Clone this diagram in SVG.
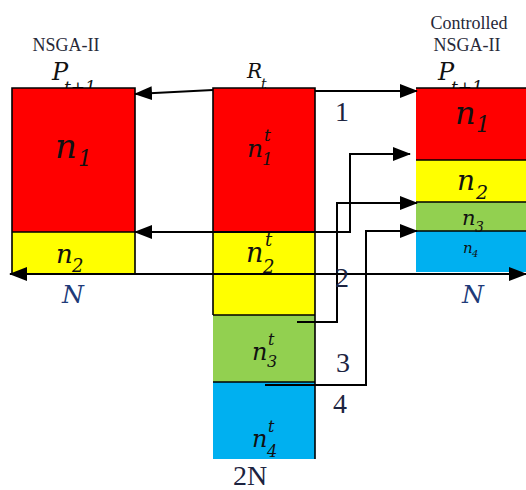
<svg xmlns="http://www.w3.org/2000/svg" width="526" height="490" viewBox="0 0 526 490">
  <defs>
    <marker id="head" viewBox="0 0 18 14" refX="17" refY="7" markerWidth="18" markerHeight="14" markerUnits="userSpaceOnUse" orient="auto-start-reverse">
      <path d="M0,0 L18,7 L0,14 z" fill="#000"/>
    </marker>
    <style>
      .cap { font-family: "Liberation Serif", "Times New Roman", serif; font-size: 18px; fill: #262838; text-anchor: middle; }
      .math { font-family: "DejaVu Serif", "Liberation Serif", serif; font-style: italic; fill: #111; }
      .num { font-family: "Liberation Serif", "Times New Roman", serif; font-size: 28px; fill: #1c2340; }
      .navy { fill: #203a78; }
      .edge { stroke: #000; stroke-width: 1.6; fill: none; }
      .wire { stroke: #000; stroke-width: 2; fill: none; }
      .red { fill: #ff0000; }
      .yellow { fill: #ffff00; }
      .green { fill: #92d050; }
      .blue { fill: #00b0f0; }
    </style>
  </defs>

  <!-- column headings (drawn first so the box tops overlap the subscripts) -->
  <g id="headings">
    <text class="cap" x="66" y="51">NSGA-II</text>
    <text class="cap" x="469" y="29">Controlled</text>
    <text class="cap" x="467" y="51">NSGA-II</text>
    <text class="math" x="52" y="80" font-size="24">P<tspan x="64" y="93" font-size="17">t+1</tspan></text>
    <text class="math" x="247" y="78" font-size="20">R<tspan x="261" y="89" font-size="14">t</tspan></text>
    <text class="math" x="438" y="80" font-size="24">P<tspan x="451" y="93" font-size="17">t+1</tspan></text>
  </g>

  <!-- next population, standard NSGA-II -->
  <g id="left-pop">
    <rect class="red" x="12" y="88" width="123" height="144"/>
    <rect class="yellow" x="12" y="232" width="123" height="42"/>
    <path class="edge" d="M12,274 V88 H135 V274 M12,232 H135"/>
    <text class="math" x="55" y="158" font-size="34">n<tspan x="78" y="166" font-size="22">1</tspan></text>
    <text class="math" x="56" y="263" font-size="26">n<tspan x="72" y="272" font-size="18">2</tspan></text>
  </g>

  <!-- combined population R_t -->
  <g id="mid-pop">
    <rect class="red" x="213" y="88" width="102" height="144"/>
    <rect class="yellow" x="213" y="232" width="102" height="83"/>
    <rect class="green" x="213" y="315" width="102" height="67"/>
    <rect class="blue" x="213" y="382" width="102" height="77"/>
    <path class="edge" d="M213,315 V88 H315 V459 M213,232 H315 M213,315 H315 M213,382 H315"/>
    <text class="math" x="247" y="157" font-size="25">n<tspan x="264" y="141" font-size="17">t</tspan><tspan x="262" y="165" font-size="17">1</tspan></text>
    <text class="math" x="246" y="262" font-size="27">n<tspan x="265" y="246" font-size="18">t</tspan><tspan x="263" y="273" font-size="18">2</tspan></text>
    <text class="math" x="252" y="360" font-size="24">n<tspan x="268" y="345" font-size="16">t</tspan><tspan x="267" y="367" font-size="16">3</tspan></text>
    <text class="math" x="252" y="447" font-size="24">n<tspan x="268" y="432" font-size="16">t</tspan><tspan x="267" y="457" font-size="16">4</tspan></text>
  </g>

  <!-- next population, controlled NSGA-II -->
  <g id="right-pop">
    <rect class="red" x="416" y="88" width="110" height="72"/>
    <rect class="yellow" x="416" y="160" width="110" height="42"/>
    <rect class="green" x="416" y="202" width="110" height="29"/>
    <rect class="blue" x="416" y="231" width="110" height="41"/>
    <path class="edge" d="M416,88 H526 M416,160 H526 M416,202 H526 M416,231 H526"/>
    <text class="math" x="455" y="124" font-size="32">n<tspan x="476" y="132" font-size="22">1</tspan></text>
    <text class="math" x="457" y="190" font-size="28">n<tspan x="476" y="199" font-size="19">2</tspan></text>
    <text class="math" x="462" y="225" font-size="21">n<tspan x="475" y="232" font-size="14">3</tspan></text>
    <text class="math" x="463" y="253" font-size="15">n<tspan x="472" y="257" font-size="10">4</tspan></text>
  </g>

  <!-- connectors -->
  <g id="connectors">
    <path class="wire" d="M213,90 L135,94" marker-end="url(#head)"/>
    <path class="wire" d="M315,91 H417" marker-end="url(#head)"/>
    <path class="wire" d="M350,232 H135" marker-end="url(#head)"/>
    <path class="wire" d="M315,232 H350 V154 H410" marker-end="url(#head)"/>
    <path class="wire" d="M297,322 H337 V203 H417" marker-end="url(#head)"/>
    <path class="wire" d="M265,385 H366 V231 H417" marker-end="url(#head)"/>
    <path class="wire" d="M10,274 H526" marker-start="url(#head)" marker-end="url(#head)"/>
  </g>

  <!-- sizes and step numbers -->
  <g id="labels">
    <text class="math navy" x="62" y="303" font-size="25">N</text>
    <text class="math navy" x="462" y="303" font-size="25">N</text>
    <text class="num" x="233" y="485" font-size="27">2N</text>
    <text class="num" x="335" y="121">1</text>
    <text class="num" x="335" y="287">2</text>
    <text class="num" x="336" y="372">3</text>
    <text class="num" x="333" y="413">4</text>
  </g>
</svg>
